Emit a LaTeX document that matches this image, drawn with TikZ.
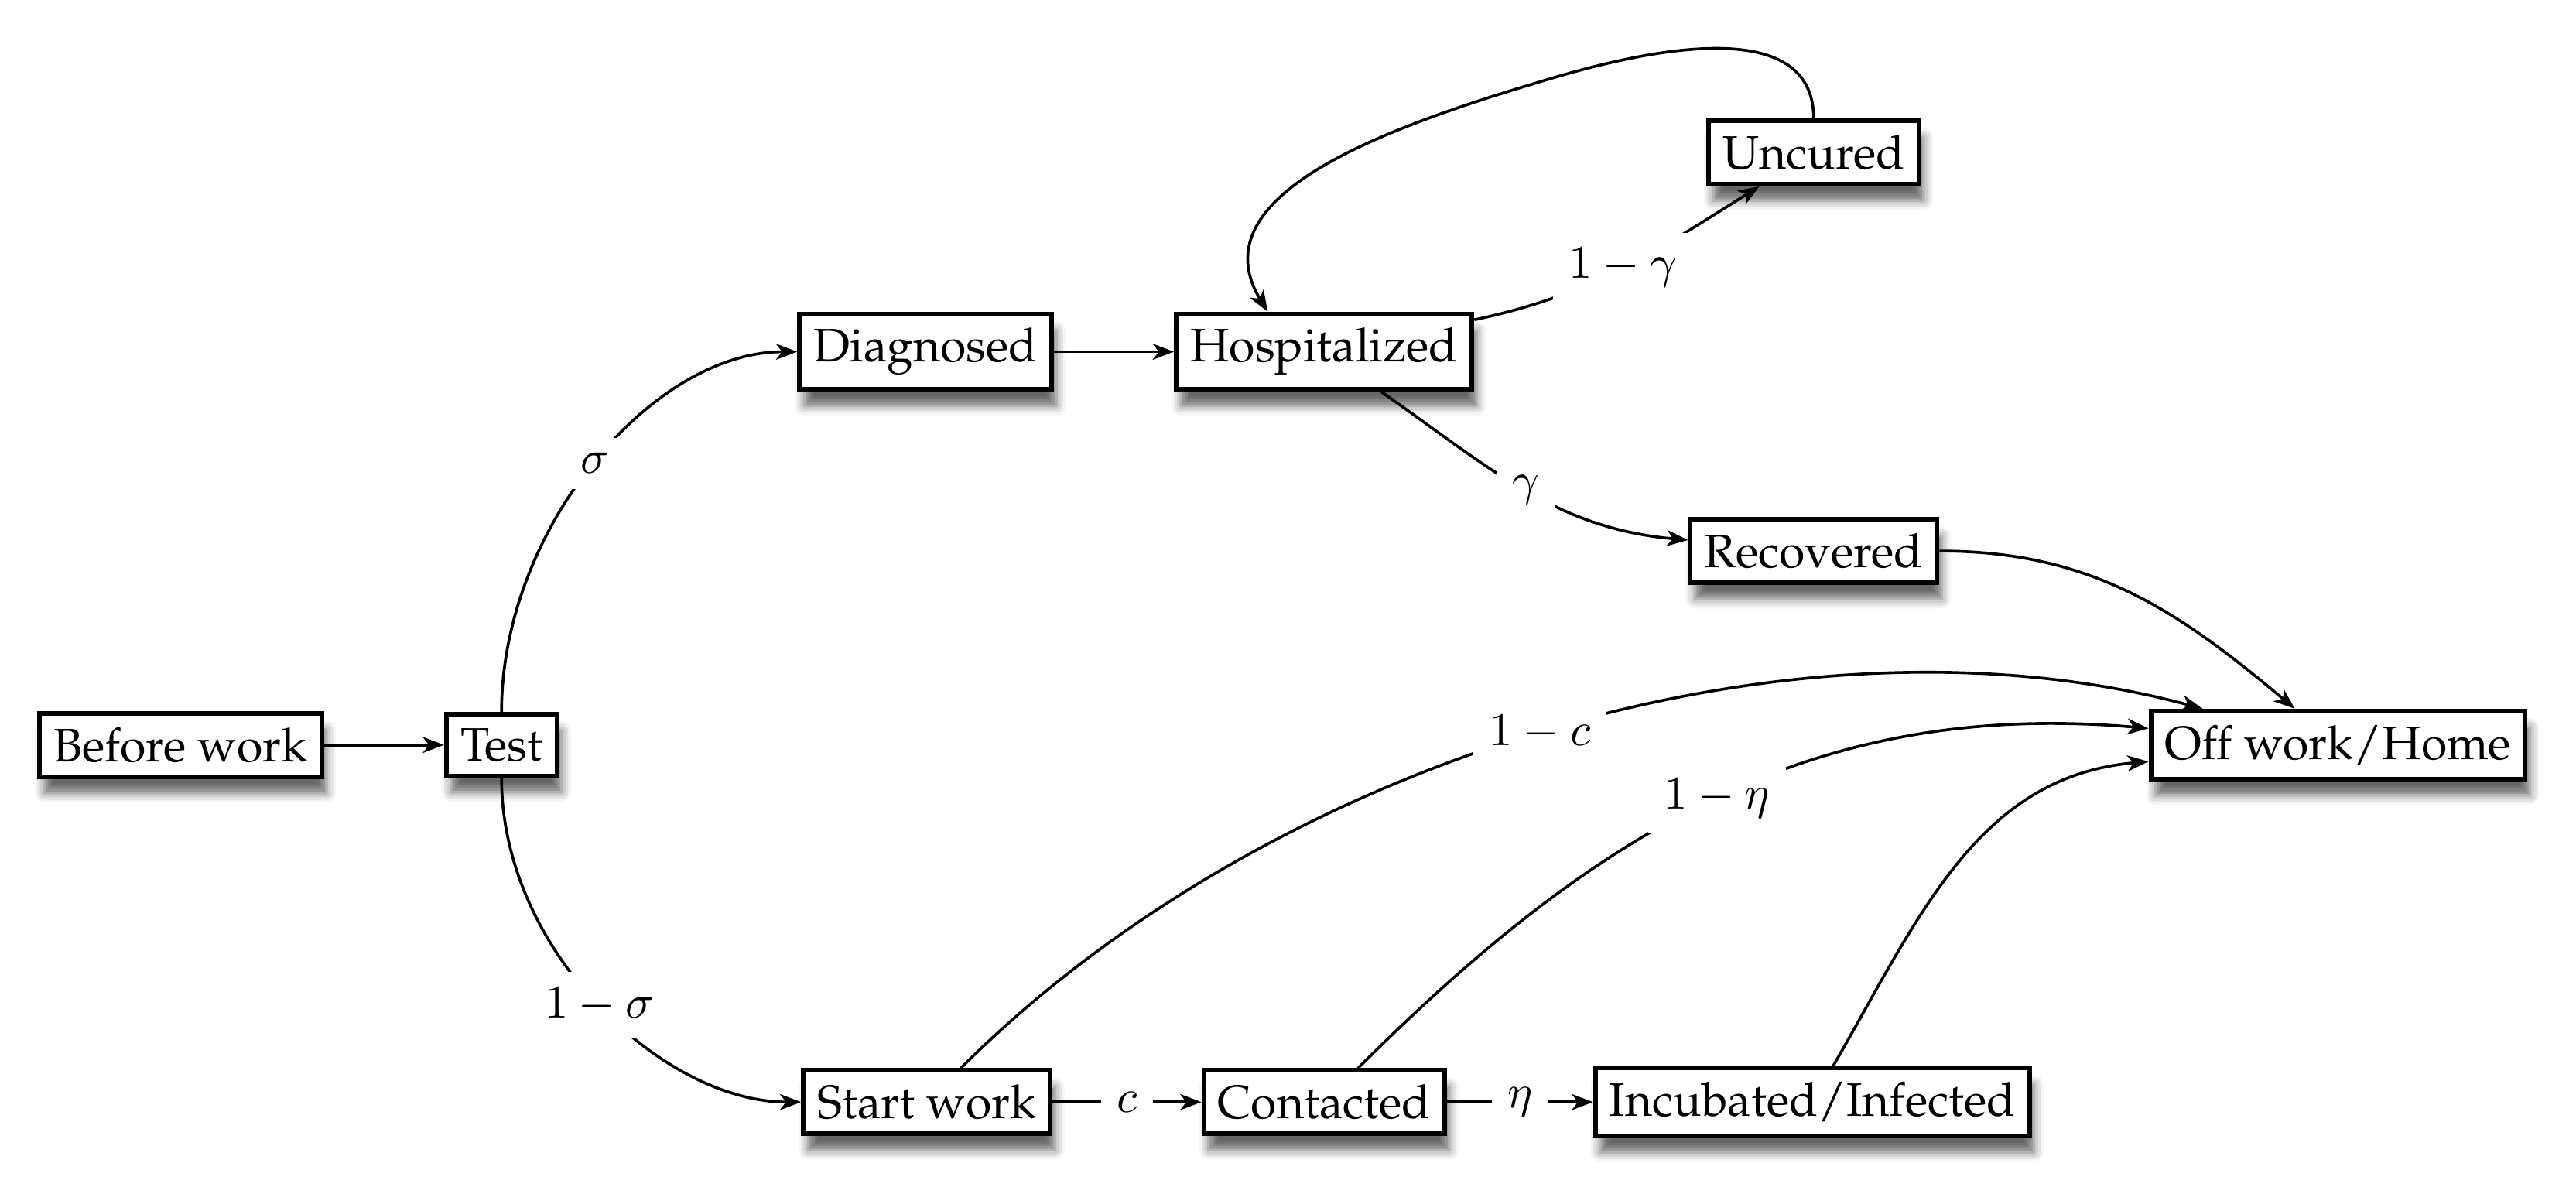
\documentclass[tikz,border=0pt]{standalone}
\usepackage[T1]{fontenc}
\usepackage{palatino}
\usepackage{tikz}
\usetikzlibrary{arrows.meta,positioning,shadows.blur}

\tikzset{
  stage/.style={draw, line width=1pt, fill=white, inner sep=3pt,
    blur shadow={shadow xshift=1pt, shadow yshift=-3.5pt, shadow blur radius=2pt, shadow opacity=60}},
  flow/.style={semithick, -{Stealth[length=4.5pt, width=3.4pt, inset=1.3pt]}},
  rate/.style={midway, fill=white}
}

\begin{document}
\begin{tikzpicture}
    \useasboundingbox (0,0) rectangle (19.26,8.87);

    % Stages
    \node[stage] (before) at (1.35,3.30) {Before work};
    \node[stage] (test) at (3.75,3.30) {Test};
    \node[stage] (diag) at (6.92,6.24) {Diagnosed};
    \node[stage] (hosp) at (9.90,6.24) {Hospitalized};
    \node[stage] (uncured) at (13.56,7.73) {Uncured};
    \node[stage] (recovered) at (13.56,4.75) {Recovered};
    \node[stage] (off) at (17.48,3.30) {Off work/Home};
    \node[stage] (start) at (6.93,0.63) {Start work};
    \node[stage] (contacted) at (9.90,0.63) {Contacted};
    \node[stage] (incubated) at (13.55,0.63) {Incubated/Infected};
    \coordinate (looptop) at (11.62,8.29);

    % Flows
    \draw[flow] (before) -- (test);
    \draw[flow] (test) to[out=90, in=180, in looseness=0.8] node[rate] {$\sigma$} (diag);
    \draw[flow] (test) to[out=-90, in=180, in looseness=0.8] node[rate] {$1-\sigma$} (start);
    \draw[flow] (diag) -- (hosp);
    \draw[flow] (hosp) to[out=12, in=-148] node[rate] {$1-\gamma$} (uncured);
    \draw[flow] (uncured.north) .. controls +(0,0.7) and +(0.95,0.28) .. (looptop)
        .. controls +(-1.15,-0.34) and +(-0.55,0.9) .. ([xshift=-12pt]hosp.north);
    \draw[flow] (hosp) to[out=-35, in=175] node[rate] {$\gamma$} (recovered);
    \draw[flow] (recovered) to[out=0, in=140] (off);
    \draw[flow] (start) -- node[rate] {$c$} (contacted);
    \draw[flow] (contacted) -- node[rate] {$\eta$} (incubated);
    \draw[flow] (start) to[out=45, in=165, looseness=0.85] node[rate] {$1-c$} (off);
    \draw[flow] (contacted) to[out=45, in=175] node[rate] {$1-\eta$} (off);
    \draw[flow] (incubated) to[out=60, in=-175] (off);
\end{tikzpicture}
\end{document}
